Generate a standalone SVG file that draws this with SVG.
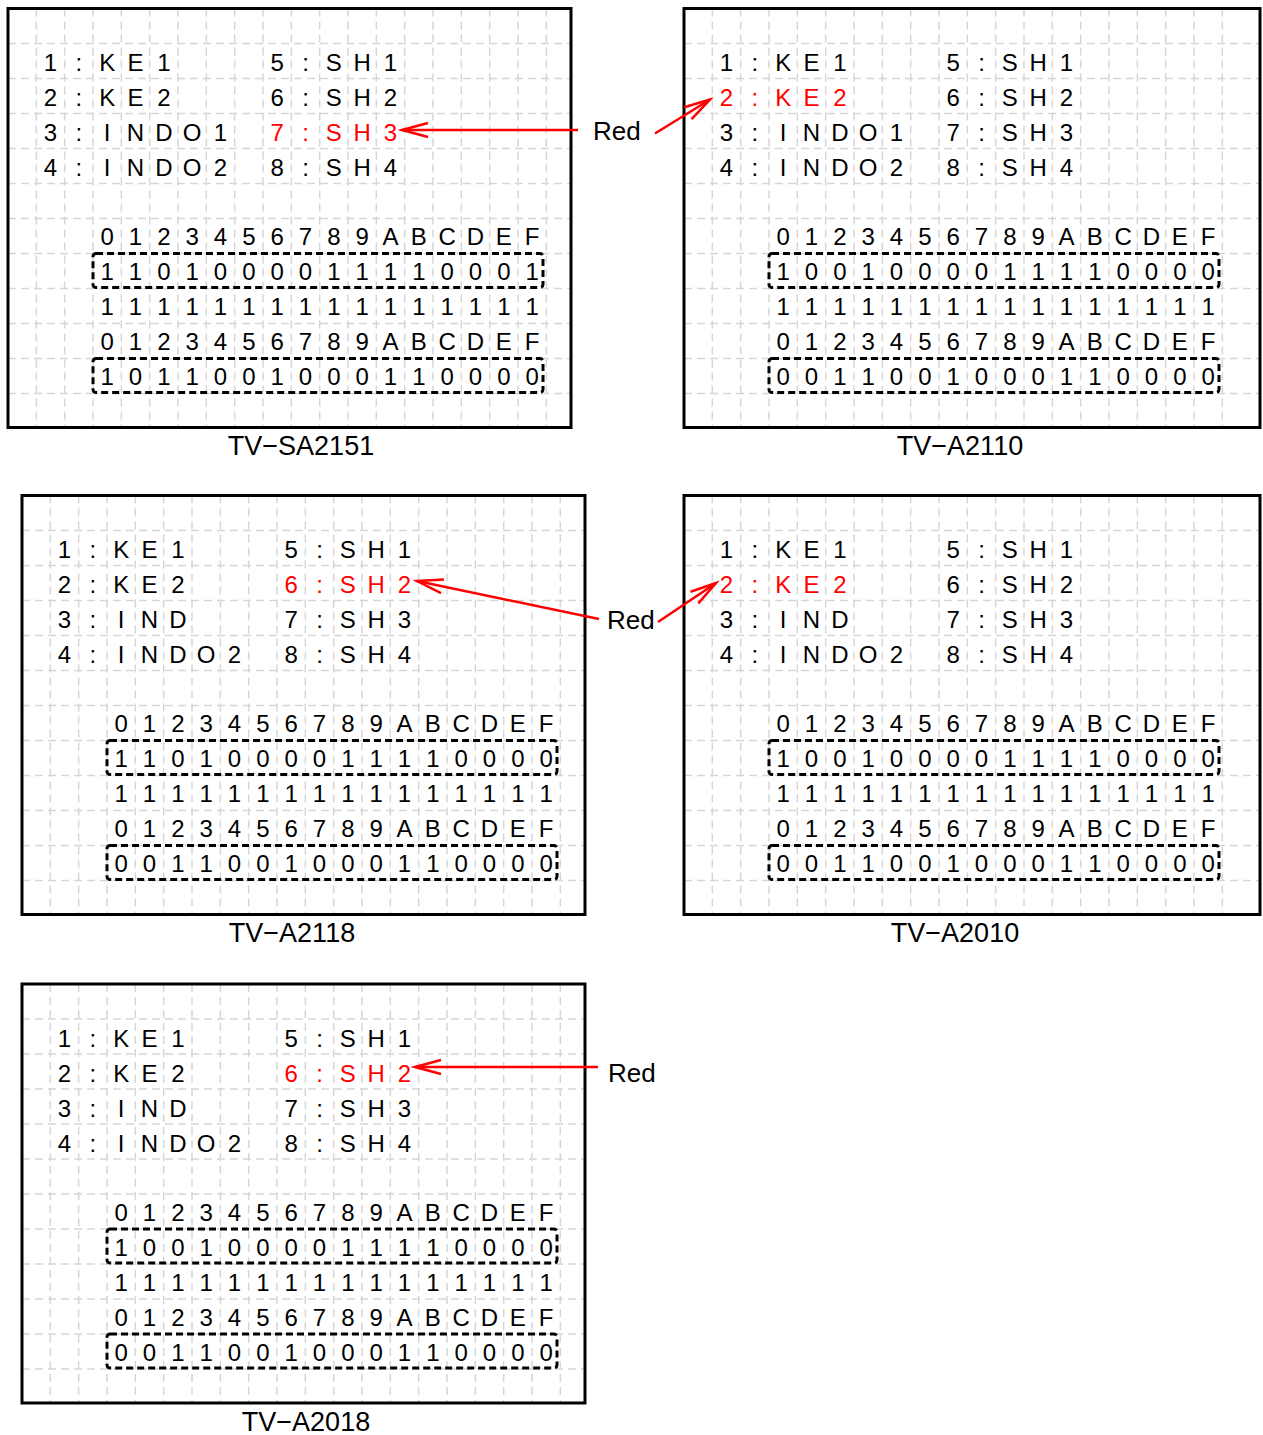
<svg xmlns="http://www.w3.org/2000/svg" xmlns:xlink="http://www.w3.org/1999/xlink" width="1263" height="1435" viewBox="0 0 1263 1435">
<style>
  .grid line { stroke: #d6d6d6; stroke-width: 1.5; stroke-dasharray: 8 5; }
  .frame { fill: none; stroke: #000; stroke-width: 3; }
  .t { font-family: "Liberation Sans", Arial, sans-serif; font-size: 24px; fill: #000; text-anchor: middle; }
  .red { fill: #ff0000; }
  .box { fill: none; stroke: #000; stroke-width: 3; stroke-dasharray: 7 4; }
  .cap { font-family: "Liberation Sans", Arial, sans-serif; font-size: 27px; fill: #000; text-anchor: middle; }
  .lbl { font-family: "Liberation Sans", Arial, sans-serif; font-size: 26px; fill: #000; }
  .arr { fill: none; stroke: #ff0000; stroke-width: 2.5; }
</style>
<defs>
  <marker id="ah" markerUnits="userSpaceOnUse" viewBox="-30 -12 34 24" markerWidth="34" markerHeight="24" refX="0" refY="0" orient="auto">
    <path d="M-26,-7 L0,0 L-26,7" fill="none" stroke="#ff0000" stroke-width="2.5"/>
  </marker>
  <g id="vl" class="grid">
    <line x1="28.33" y1="0" x2="28.33" y2="419"/><line x1="56.67" y1="0" x2="56.67" y2="419"/>
    <line x1="85" y1="0" x2="85" y2="419"/><line x1="113.33" y1="0" x2="113.33" y2="419"/>
    <line x1="141.67" y1="0" x2="141.67" y2="419"/><line x1="170" y1="0" x2="170" y2="419"/>
    <line x1="198.33" y1="0" x2="198.33" y2="419"/><line x1="226.67" y1="0" x2="226.67" y2="419"/>
    <line x1="255" y1="0" x2="255" y2="419"/><line x1="283.33" y1="0" x2="283.33" y2="419"/>
    <line x1="311.67" y1="0" x2="311.67" y2="419"/><line x1="340" y1="0" x2="340" y2="419"/>
    <line x1="368.33" y1="0" x2="368.33" y2="419"/><line x1="396.67" y1="0" x2="396.67" y2="419"/>
    <line x1="425" y1="0" x2="425" y2="419"/><line x1="453.33" y1="0" x2="453.33" y2="419"/>
    <line x1="481.67" y1="0" x2="481.67" y2="419"/><line x1="510" y1="0" x2="510" y2="419"/>
    <line x1="538.33" y1="0" x2="538.33" y2="419"/>
  </g>
  <g id="gridA">
    <use xlink:href="#vl"/>
    <g class="grid">
      <line x1="0" y1="35" x2="563" y2="35"/><line x1="0" y1="70" x2="563" y2="70"/>
      <line x1="0" y1="105" x2="563" y2="105"/><line x1="0" y1="140" x2="563" y2="140"/>
      <line x1="0" y1="175" x2="563" y2="175"/><line x1="0" y1="210" x2="563" y2="210"/>
      <line x1="0" y1="245" x2="563" y2="245"/><line x1="0" y1="280" x2="563" y2="280"/>
      <line x1="0" y1="315" x2="563" y2="315"/><line x1="0" y1="350" x2="563" y2="350"/>
      <line x1="0" y1="385" x2="563" y2="385"/>
    </g>
    <rect class="frame" x="0" y="0" width="563" height="419"/>
  </g>
  <g id="gridB">
    <use xlink:href="#vl"/>
    <g class="grid">
      <line x1="0" y1="35" x2="576" y2="35"/><line x1="0" y1="70" x2="576" y2="70"/>
      <line x1="0" y1="105" x2="576" y2="105"/><line x1="0" y1="140" x2="576" y2="140"/>
      <line x1="0" y1="175" x2="576" y2="175"/><line x1="0" y1="210" x2="576" y2="210"/>
      <line x1="0" y1="245" x2="576" y2="245"/><line x1="0" y1="280" x2="576" y2="280"/>
      <line x1="0" y1="315" x2="576" y2="315"/><line x1="0" y1="350" x2="576" y2="350"/>
      <line x1="0" y1="385" x2="576" y2="385"/>
    </g>
    <rect class="frame" x="0" y="0" width="576" height="419"/>
  </g>
  <g id="common">
    <text class="t" y="62.5" x="42.5 70.83 99.17 127.5 155.83">1:KE1</text>
    <text class="t" y="62.5" x="269.17 297.5 325.83 354.17 382.5">5:SH1</text>
    <text class="t" y="167.5" x="42.5 70.83 99.17 127.5 155.83 184.17 212.5">4:INDO2</text>
    <text class="t" y="167.5" x="269.17 297.5 325.83 354.17 382.5">8:SH4</text>
    <text class="t" y="236.5" x="99.17 127.5 155.83 184.17 212.5 240.83 269.17 297.5 325.83 354.17 382.5 410.83 439.17 467.5 495.83 524.17">0123456789ABCDEF</text>
    <text class="t" y="306.5" x="99.17 127.5 155.83 184.17 212.5 240.83 269.17 297.5 325.83 354.17 382.5 410.83 439.17 467.5 495.83 524.17">1111111111111111</text>
    <text class="t" y="341.5" x="99.17 127.5 155.83 184.17 212.5 240.83 269.17 297.5 325.83 354.17 382.5 410.83 439.17 467.5 495.83 524.17">0123456789ABCDEF</text>
    <rect class="box" x="85" y="245" width="450" height="34" rx="3"/>
    <rect class="box" x="85" y="350" width="450" height="34" rx="3"/>
  </g>
</defs>

<g id="panel-TV-SA2151" transform="translate(8,8.5)">
  <use xlink:href="#gridA"/>
  <use xlink:href="#common"/>
  <text class="t" y="97.5" x="42.5 70.83 99.17 127.5 155.83">2:KE2</text>
  <text class="t" y="97.5" x="269.17 297.5 325.83 354.17 382.5">6:SH2</text>
  <text class="t" y="132.5" x="42.5 70.83 99.17 127.5 155.83 184.17 212.5">3:INDO1</text>
  <text class="t red" y="132.5" x="269.17 297.5 325.83 354.17 382.5">7:SH3</text>
  <text class="t" y="271.5" x="99.17 127.5 155.83 184.17 212.5 240.83 269.17 297.5 325.83 354.17 382.5 410.83 439.17 467.5 495.83 524.17">1101000011110001</text>
  <text class="t" y="376.5" x="99.17 127.5 155.83 184.17 212.5 240.83 269.17 297.5 325.83 354.17 382.5 410.83 439.17 467.5 495.83 524.17">1011001000110000</text>
  <text class="cap" x="293" y="446.5">TV−SA2151</text>
</g>

<g id="panel-TV-A2110" transform="translate(684,8.5)">
  <use xlink:href="#gridB"/>
  <use xlink:href="#common"/>
  <text class="t red" y="97.5" x="42.5 70.83 99.17 127.5 155.83">2:KE2</text>
  <text class="t" y="97.5" x="269.17 297.5 325.83 354.17 382.5">6:SH2</text>
  <text class="t" y="132.5" x="42.5 70.83 99.17 127.5 155.83 184.17 212.5">3:INDO1</text>
  <text class="t" y="132.5" x="269.17 297.5 325.83 354.17 382.5">7:SH3</text>
  <text class="t" y="271.5" x="99.17 127.5 155.83 184.17 212.5 240.83 269.17 297.5 325.83 354.17 382.5 410.83 439.17 467.5 495.83 524.17">1001000011110000</text>
  <text class="t" y="376.5" x="99.17 127.5 155.83 184.17 212.5 240.83 269.17 297.5 325.83 354.17 382.5 410.83 439.17 467.5 495.83 524.17">0011001000110000</text>
  <text class="cap" x="276" y="446.5">TV−A2110</text>
</g>

<g id="panel-TV-A2118" transform="translate(22,495.5)">
  <use xlink:href="#gridA"/>
  <use xlink:href="#common"/>
  <text class="t" y="97.5" x="42.5 70.83 99.17 127.5 155.83">2:KE2</text>
  <text class="t red" y="97.5" x="269.17 297.5 325.83 354.17 382.5">6:SH2</text>
  <text class="t" y="132.5" x="42.5 70.83 99.17 127.5 155.83">3:IND</text>
  <text class="t" y="132.5" x="269.17 297.5 325.83 354.17 382.5">7:SH3</text>
  <text class="t" y="271.5" x="99.17 127.5 155.83 184.17 212.5 240.83 269.17 297.5 325.83 354.17 382.5 410.83 439.17 467.5 495.83 524.17">1101000011110000</text>
  <text class="t" y="376.5" x="99.17 127.5 155.83 184.17 212.5 240.83 269.17 297.5 325.83 354.17 382.5 410.83 439.17 467.5 495.83 524.17">0011001000110000</text>
  <text class="cap" x="270" y="446.5">TV−A2118</text>
</g>

<g id="panel-TV-A2010" transform="translate(684,495.5)">
  <use xlink:href="#gridB"/>
  <use xlink:href="#common"/>
  <text class="t red" y="97.5" x="42.5 70.83 99.17 127.5 155.83">2:KE2</text>
  <text class="t" y="97.5" x="269.17 297.5 325.83 354.17 382.5">6:SH2</text>
  <text class="t" y="132.5" x="42.5 70.83 99.17 127.5 155.83">3:IND</text>
  <text class="t" y="132.5" x="269.17 297.5 325.83 354.17 382.5">7:SH3</text>
  <text class="t" y="271.5" x="99.17 127.5 155.83 184.17 212.5 240.83 269.17 297.5 325.83 354.17 382.5 410.83 439.17 467.5 495.83 524.17">1001000011110000</text>
  <text class="t" y="376.5" x="99.17 127.5 155.83 184.17 212.5 240.83 269.17 297.5 325.83 354.17 382.5 410.83 439.17 467.5 495.83 524.17">0011001000110000</text>
  <text class="cap" x="271" y="446.5">TV−A2010</text>
</g>

<g id="panel-TV-A2018" transform="translate(22,984)">
  <use xlink:href="#gridA"/>
  <use xlink:href="#common"/>
  <text class="t" y="97.5" x="42.5 70.83 99.17 127.5 155.83">2:KE2</text>
  <text class="t red" y="97.5" x="269.17 297.5 325.83 354.17 382.5">6:SH2</text>
  <text class="t" y="132.5" x="42.5 70.83 99.17 127.5 155.83">3:IND</text>
  <text class="t" y="132.5" x="269.17 297.5 325.83 354.17 382.5">7:SH3</text>
  <text class="t" y="271.5" x="99.17 127.5 155.83 184.17 212.5 240.83 269.17 297.5 325.83 354.17 382.5 410.83 439.17 467.5 495.83 524.17">1001000011110000</text>
  <text class="t" y="376.5" x="99.17 127.5 155.83 184.17 212.5 240.83 269.17 297.5 325.83 354.17 382.5 410.83 439.17 467.5 495.83 524.17">0011001000110000</text>
  <text class="cap" x="284" y="446.5">TV−A2018</text>
</g>

<g id="connectors">
  <line class="arr" x1="578" y1="130" x2="402" y2="130" marker-end="url(#ah)"/>
  <line class="arr" x1="655" y1="133.5" x2="710" y2="99.5" marker-end="url(#ah)"/>
  <line class="arr" x1="599" y1="619" x2="417" y2="581" marker-end="url(#ah)"/>
  <line class="arr" x1="658" y1="622" x2="716" y2="583" marker-end="url(#ah)"/>
  <line class="arr" x1="598" y1="1067" x2="415" y2="1067" marker-end="url(#ah)"/>
  <text class="lbl" x="593" y="139.5">Red</text>
  <text class="lbl" x="607" y="628.5">Red</text>
  <text class="lbl" x="608" y="1081.5">Red</text>
</g>
</svg>
